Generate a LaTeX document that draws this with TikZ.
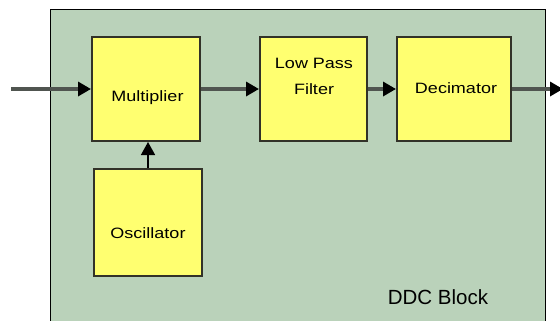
\documentclass[tikz,border=0pt]{standalone}
\usepackage{fontspec}
\setmainfont{Liberation Sans}
\newfontfamily\stretchfont[FakeStretch=1.2]{Liberation Sans}
\usetikzlibrary{arrows.meta}
\definecolor{bggreen}{RGB}{186,210,186}
\definecolor{boxyellow}{RGB}{255,255,112}
\definecolor{boxedge}{RGB}{50,50,40}
\definecolor{sigline}{RGB}{80,85,80}
\tikzset{
  outerblock/.style={draw=black, line width=1.3bp, fill=bggreen, inner sep=0},
  procbox/.style={draw=boxedge, line width=2bp, fill=boxyellow, inner sep=0},
  lbl/.style={font=\stretchfont\fontsize{15bp}{26bp}\selectfont, text=black, align=center, inner sep=0},
  biglbl/.style={font=\fontsize{20.5bp}{24bp}\selectfont, text=black, inner sep=0},
  sig/.style={draw=sigline, line width=4bp, -{Triangle[length=13bp,width=14bp,color=black]}},
  thinsig/.style={draw=black, line width=1.5bp, -{Triangle[length=13bp,width=14bp,color=black]}}
}
\begin{document}
\begin{tikzpicture}[x=1bp,y=-1bp]
\useasboundingbox (0,0) rectangle (560,320);
\fill[white] (0,0) rectangle (560,320);
\node[outerblock, anchor=north west, minimum width=495bp, minimum height=315bp] (ddc) at (50,9) {};
\node[procbox, minimum width=108bp, minimum height=104bp] (mult) at (146,89) {};
\node[procbox, minimum width=107bp, minimum height=104bp] (lpf) at (313.5,89) {};
\node[procbox, minimum width=114bp, minimum height=104bp] (dec) at (454,89) {};
\node[procbox, minimum width=108bp, minimum height=107bp] (osc) at (148,222.5) {};
\node[lbl] (multt) at (147.5,97.5) {Multiplier};
\node[lbl] (lpft) at (314,76) {Low Pass\\Filter};
\node[lbl] (dect) at (456,88) {Decimator};
\node[lbl] (osct) at (148,233) {Oscillator};
\node[biglbl] (ddct) at (438,297) {DDC Block};
\coordinate (in) at (11,89);
\coordinate (out) at (563,89);
\draw[sig] (in) -- (mult.west);
\draw[sig] (mult.east) -- (lpf.west);
\draw[sig] (lpf.east) -- (dec.west);
\draw[sig] (dec.east) -- (out);
\draw[thinsig] (osc.north) -- (osc.north |- mult.south);
\end{tikzpicture}
\end{document}
